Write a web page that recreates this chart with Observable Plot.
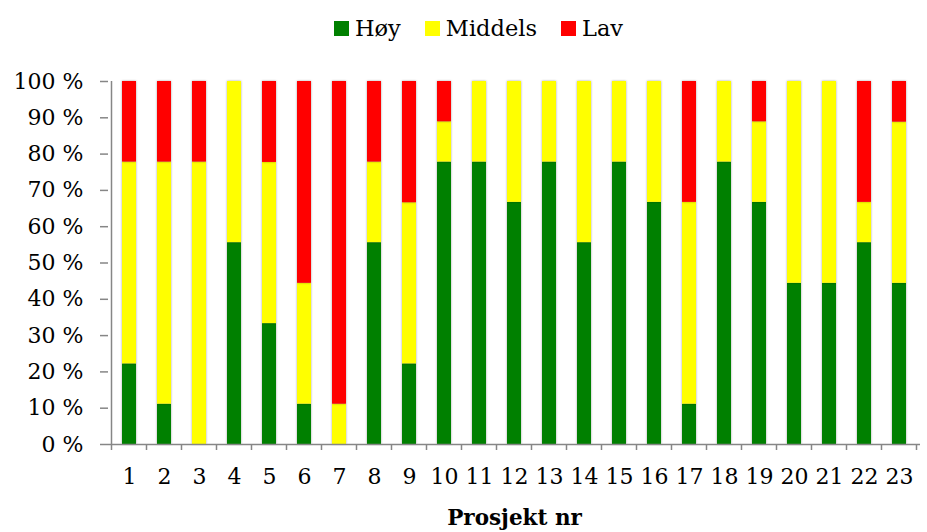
<!DOCTYPE html>
<html><head><meta charset="utf-8">
<script src="https://cdn.jsdelivr.net/npm/d3@7"></script>
<script src="https://cdn.jsdelivr.net/npm/@observablehq/plot@0.6"></script>
<style>
body{margin:0;background:#fff;font-family:"DejaVu Serif",serif;}
#legend{height:50px;display:flex;justify-content:center;align-items:center;padding-left:30px;gap:24px;font-size:22.5px;color:#000;padding-top:6px;box-sizing:border-box;}
#legend .item{display:flex;align-items:center;gap:6px;}
#legend .sw{width:15px;height:15px;display:inline-block;}
#chart svg g[aria-label="bar"] rect{filter:drop-shadow(0 0 1.2px rgba(0,0,0,0.35));}
</style></head><body>
<div id="legend"></div>
<div id="chart"></div>
<script>
const projects = ["1","2","3","4","5","6","7","8","9","10","11","12","13","14","15","16","17","18","19","20","21","22","23"];
const seriesNames = ["Høy","Middels","Lav"];
const seriesColors = ["#008000","#ffff00","#ff0000"];
const hoy     = [22.2,11.1, 0.0,55.6,33.3,11.1, 0.0,55.6,22.2,77.8,77.8,66.7,77.8,55.6,77.8,66.7,11.1,77.8,66.7,44.4,44.4,55.6,44.4];
const middels = [55.6,66.7,77.8,44.4,44.4,33.3,11.1,22.2,44.4,11.1,22.2,33.3,22.2,44.4,22.2,33.3,55.6,22.2,22.2,55.6,55.6,11.1,44.4];
const lav     = [22.2,22.2,22.2, 0.0,22.3,55.6,88.9,22.2,33.4,11.1, 0.0, 0.0, 0.0, 0.0, 0.0, 0.0,33.3, 0.0,11.1, 0.0, 0.0,33.3,11.2];
const yTicks = [0,10,20,30,40,50,60,70,80,90,100];
const xTitle = "Prosjekt nr";

const seriesValues = [hoy, middels, lav];
const data = [];
seriesNames.forEach((s, si) => projects.forEach((p, i) => data.push({project: p, series: s, value: seriesValues[si][i]})));

// legend
const leg = document.getElementById("legend");
seriesNames.forEach((s, i) => {
  const it = document.createElement("span"); it.className = "item";
  const sw = document.createElement("span"); sw.className = "sw"; sw.style.background = seriesColors[i];
  const tx = document.createElement("span"); tx.textContent = s;
  it.appendChild(sw); it.appendChild(tx); leg.appendChild(it);
});

const axisColor = "#868686";
const chart = Plot.plot({
  width: 927,
  height: 482,
  marginLeft: 108,
  marginRight: 7,
  marginTop: 31,
  marginBottom: 88,
  style: {fontFamily: "DejaVu Serif", fontSize: "22px", color: "#000", background: "#fff", overflow: "visible"},
  x: {domain: projects, paddingInner: 0.6, paddingOuter: 0.3, label: null},
  y: {domain: [0, 100], label: null},
  color: {domain: seriesNames, range: seriesColors},
  marks: [
    Plot.barY(data, Plot.stackY({x: "project", y: "value", fill: "series", order: seriesNames})),
    Plot.ruleY([0], {stroke: axisColor, strokeWidth: 1.5}),
    Plot.axisY({ticks: yTicks, tickFormat: d => d + " %", tickSize: 8, tickPadding: 17, stroke: axisColor, strokeWidth: 1.5, label: null}),
    Plot.axisX({tickSize: 0, tickPadding: 24, label: null}),
    Plot.text([xTitle], {frameAnchor: "bottom", dy: 74, fontWeight: "bold", fontSize: 21.5, lineAnchor: "middle"})
  ]
});
document.getElementById("chart").appendChild(chart);

// axis line at left and boundary ticks on x axis, from the chart's scales
const xs = chart.scale("x"), ys = chart.scale("y");
const svg = d3.select(chart);
const g = svg.append("g").attr("stroke", axisColor).attr("stroke-width", 1.5);
const y0 = ys.apply(0), y100 = ys.apply(100);
const gap = (xs.step - xs.bandwidth) / 2;
const left = xs.apply(projects[0]) - gap;
g.append("line").attr("x1", left).attr("x2", left).attr("y1", y0).attr("y2", y100);
projects.forEach(p => {
  const xb = xs.apply(p) - gap;
  g.append("line").attr("x1", xb).attr("x2", xb).attr("y1", y0).attr("y2", y0 + 6);
});
const xr = xs.apply(projects[projects.length - 1]) + xs.bandwidth + gap;
g.append("line").attr("x1", xr).attr("x2", xr).attr("y1", y0).attr("y2", y0 + 6);
</script>
</body></html>
